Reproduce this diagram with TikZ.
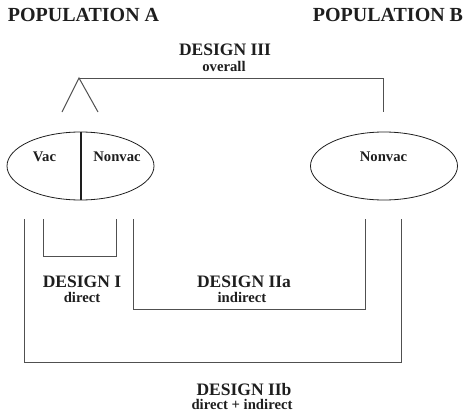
\documentclass[tikz,border=0pt]{standalone}
\usepackage{fontspec}
\setmainfont{Liberation Serif}
\usetikzlibrary{shapes.geometric,positioning}
\definecolor{lineg}{RGB}{80,80,80}
\definecolor{textk}{RGB}{30,30,30}

\begin{document}
\begin{tikzpicture}[x=1pt, y=-1pt,
    popshape/.style={ellipse, draw=textk, line width=0.8pt, minimum width=147pt, minimum height=68pt, inner sep=0pt},
    poptitle/.style={font=\fontsize{20}{22}\selectfont\bfseries, text=textk, inner sep=0pt, anchor=base},
    designlabel/.style={font=\fontsize{17.5}{19}\selectfont\bfseries, text=textk, inner sep=0pt, anchor=base},
    sublabel/.style={font=\fontsize{14.7}{16}\selectfont\bfseries, text=textk, inner sep=0pt, anchor=base},
    bracket/.style={lineg, line width=1pt}
]
\useasboundingbox (0,0) rectangle (468,412);

% Populations
\node[poptitle] (titleA) at (83.5, 22) {POPULATION A};
\node[poptitle] (titleB) at (388, 22) {POPULATION B};

\node[popshape] (ellA) at (80.5, 166) {};
\node[popshape] (ellB) at (384, 166) {};
\draw[textk, line width=2pt] (ellA.north) -- (ellA.south);

\node[sublabel] (vacA) at (44.5, 161.7) {Vac};
\node[sublabel] (nonvacA) at (117, 161.7) {Nonvac};
\node[sublabel] (nonvacB) at (383.5, 161.7) {Nonvac};

% Design III (top)
\node[designlabel] (d3) at (225, 56) {DESIGN III};
\node[sublabel] (d3sub) at (224, 71.5) {overall};

\coordinate (apex) at (79, 78);
\coordinate (legL) at (62, 112);
\coordinate (legR) at (98, 112);
\coordinate (topB) at (383, 112);
\draw[bracket] (legL) -- (apex) -- (legR);
\draw[bracket] (apex) -| (topB);

% Design I
\coordinate (d1l) at (43, 219);
\coordinate (d1r) at (116, 219);
\draw[bracket] (d1l) -- ++(0, 37) -| (d1r);
\node[designlabel] (d1) at (82, 287) {DESIGN I};
\node[sublabel] (d1sub) at (82, 302.5) {direct};

% Design IIa
\coordinate (d2al) at (133, 219);
\coordinate (d2ar) at (365, 219);
\draw[bracket] (d2al) -- ++(0, 90) -| (d2ar);
\node[designlabel] (d2a) at (244, 287) {DESIGN IIa};
\node[sublabel] (d2asub) at (242, 302.5) {indirect};

% Design IIb
\coordinate (d2bl) at (24, 219);
\coordinate (d2br) at (401, 219);
\draw[bracket] (d2bl) -- ++(0, 143) -| (d2br);
\node[designlabel] (d2b) at (244, 395) {DESIGN IIb};
\node[sublabel] (d2bsub) at (242, 409.5) {direct + indirect};

\end{tikzpicture}
\end{document}
